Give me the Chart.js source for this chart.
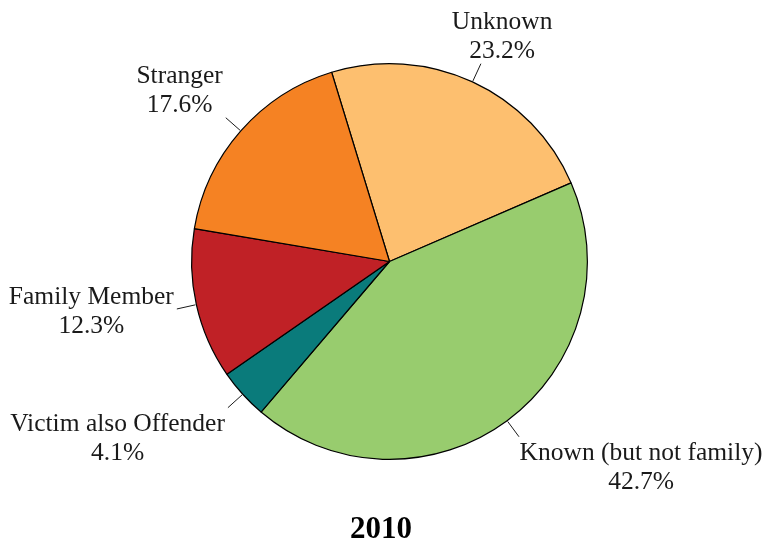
<!DOCTYPE html>
<html>
<head>
<meta charset="utf-8">
<script src="https://cdn.jsdelivr.net/npm/chart.js@4.4.0/dist/chart.umd.min.js"></script>
<style>
    html, body { margin: 0; padding: 0; background: #fff; }
    #wrap { width: 765px; height: 545px; position: relative; }
</style>
</head>
<body>
<div id="wrap"><canvas id="pieChart"></canvas></div>
<script>
// Chart data
const categories = ['Unknown', 'Known (but not family)', 'Victim also Offender', 'Family Member', 'Stranger'];
const shares = [23.2, 42.7, 4.1, 12.3, 17.6];
const sliceColors = ['#FDBF6F', '#98CC6E', '#0A7B7B', '#C02126', '#F58223'];
const chartTitle = '2010';

const FONT = '"Liberation Serif", "Times New Roman", serif';

// Draws the outside labels with leader lines, plus the title underneath
const outsideLabels = {
    id: 'outsideLabels',
    afterDraw(chart) {
        const ctx = chart.ctx;
        const arcs = chart.getDatasetMeta(0).data;
        const clampF = v => Math.max(-1, Math.min(1, v));
        const factor = u => Math.sign(u) * clampF(Math.max(0, Math.abs(u) - 0.3) / 0.3);

        ctx.save();
        ctx.font = '25.5px ' + FONT;
        ctx.fillStyle = '#1a1a1a';
        ctx.strokeStyle = '#1a1a1a';
        ctx.lineWidth = 1;
        ctx.textAlign = 'center';
        ctx.textBaseline = 'middle';

        arcs.forEach((arc, i) => {
            const mid = (arc.startAngle + arc.endAngle) / 2;
            const ux = Math.cos(mid);
            const uy = Math.sin(mid);
            const r = arc.outerRadius;
            const ex = arc.x + ux * (r + 20);
            const ey = arc.y + uy * (r + 20);

            ctx.beginPath();
            ctx.moveTo(arc.x + ux * (r + 1), arc.y + uy * (r + 1));
            ctx.lineTo(ex, ey);
            ctx.stroke();

            const lines = [categories[i], shares[i].toFixed(1) + '%'];
            const w = Math.max(...lines.map(t => ctx.measureText(t).width)) + 6;
            const h = 58;
            const bx = ex + factor(ux) * w / 2;
            const by = ey + factor(uy) * h / 2;
            ctx.fillText(lines[0], bx, by - 12);
            ctx.fillText(lines[1], bx, by + 17);
        });

        ctx.font = 'bold 31px ' + FONT;
        ctx.fillStyle = '#000';
        ctx.fillText(chartTitle, 381, 530);
        ctx.restore();
    }
};

const ctx = document.getElementById('pieChart').getContext('2d');
new Chart(ctx, {
    type: 'pie',
    data: {
        labels: categories,
        datasets: [{
            data: shares,
            backgroundColor: sliceColors,
            borderColor: '#000',
            borderWidth: 1.2
        }]
    },
    options: {
        responsive: true,
        maintainAspectRatio: false,
        animation: false,
        rotation: -17,
        layout: {
            padding: { top: 63, bottom: 85, left: 191, right: 177 }
        },
        plugins: {
            legend: { display: false },
            tooltip: { enabled: false }
        }
    },
    plugins: [outsideLabels]
});
</script>
</body>
</html>
